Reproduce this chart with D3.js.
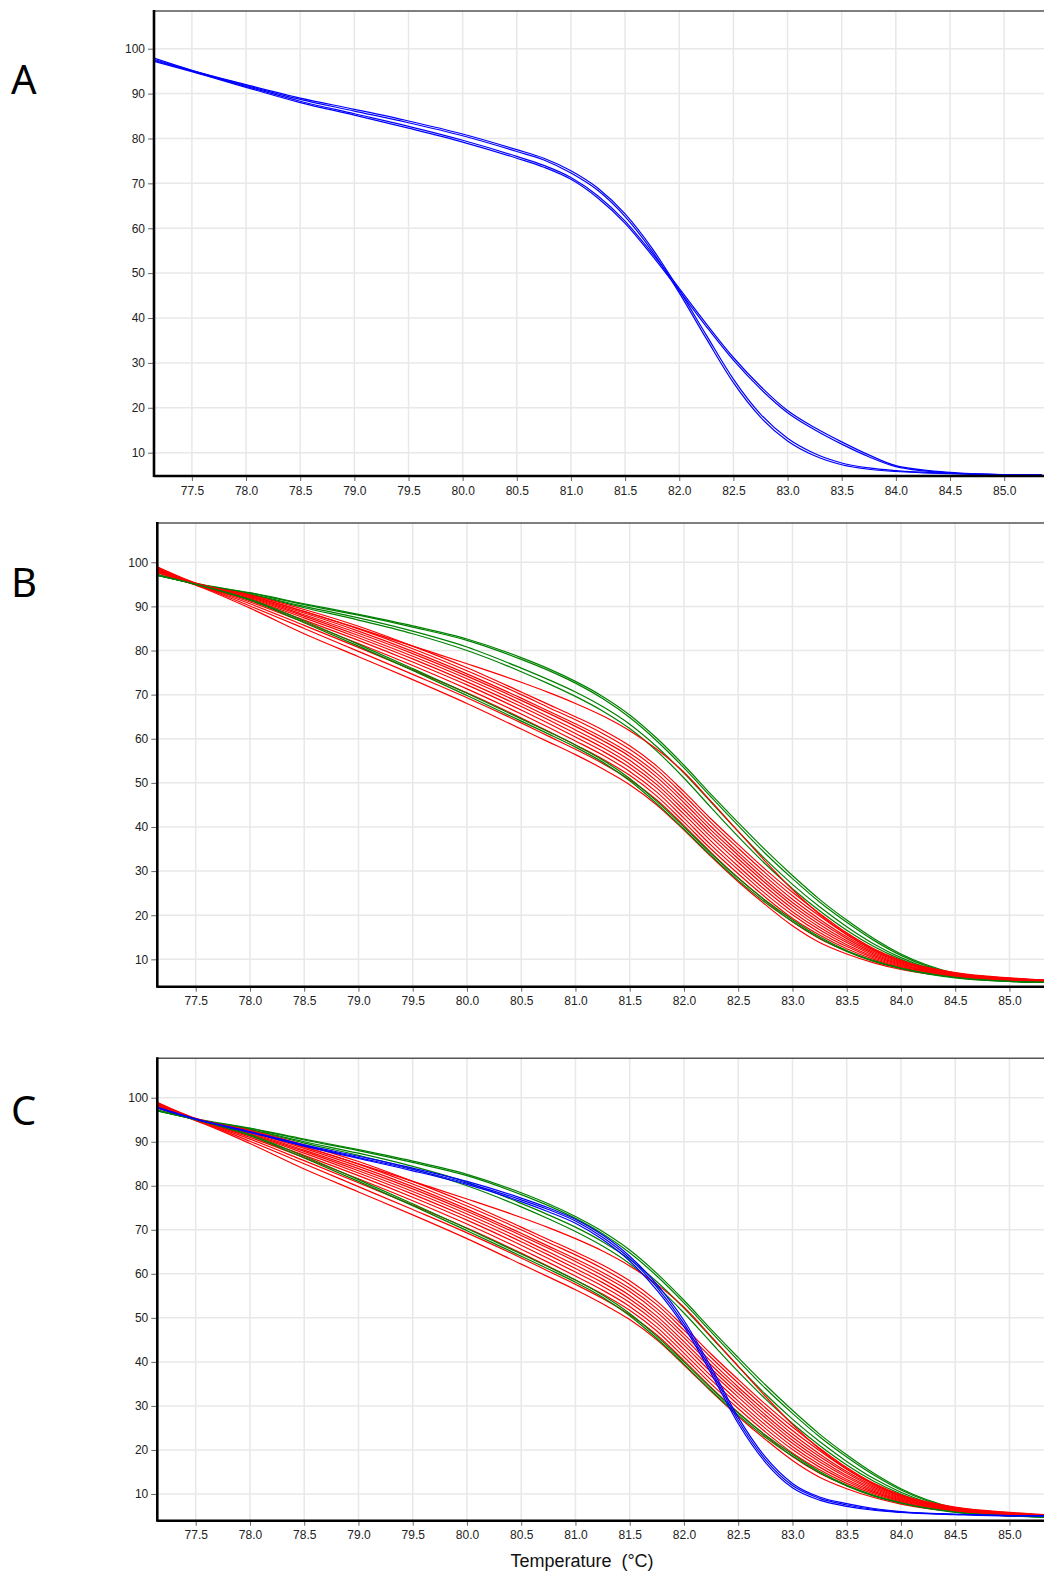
<!DOCTYPE html>
<html>
<head>
<meta charset="utf-8">
<script src="https://cdn.jsdelivr.net/npm/d3@7"></script>
<style>
body { margin: 0; background: #fff; }
svg { display: block; font-family: "Liberation Sans", Arial, sans-serif; }
</style>
</head>
<body>
<svg id="chart"></svg>
<script>
const temps = [77.15, 77.5, 78.0, 78.5, 79.0, 79.5, 80.0, 80.5, 80.75, 81.0, 81.25, 81.5, 81.75,
    82.0, 82.25, 82.5, 82.75, 83.0, 83.25, 83.5, 83.75, 84.0, 84.5, 85.0, 85.35];

const xTickValues = [77.5, 78.0, 78.5, 79.0, 79.5, 80.0, 80.5, 81.0, 81.5, 82.0, 82.5, 83.0, 83.5, 84.0, 84.5, 85.0];
const yTickValues = [10, 20, 30, 40, 50, 60, 70, 80, 90, 100];

// panel A : blue samples
const blueA = [
    [97.9, 95.2, 92.0, 89.0, 86.5, 83.9, 81.0, 77.5, 75.6, 72.8, 68.9, 63.2, 55.5, 46.2, 36.2, 26.4, 18.6, 13.2, 9.8, 7.7, 6.6, 6.0, 5.4, 5.1, 5.0],
    [97.6, 95.1, 91.8, 88.7, 86.1, 83.5, 80.6, 77.1, 75.2, 72.3, 68.4, 62.6, 54.9, 45.6, 35.4, 25.6, 17.9, 12.6, 9.3, 7.3, 6.3, 5.8, 5.3, 5.1, 5.0],
    [97.4, 95.0, 91.6, 88.3, 85.5, 82.7, 79.6, 76.0, 74.0, 71.3, 67.2, 61.6, 54.4, 46.6, 38.7, 31.2, 24.8, 19.4, 15.6, 12.4, 9.5, 7.1, 5.6, 5.1, 5.0],
    [97.2, 94.9, 91.4, 88.0, 85.2, 82.3, 79.2, 75.6, 73.6, 70.9, 66.7, 61.1, 53.9, 46.1, 38.1, 30.6, 24.2, 18.9, 15.1, 11.9, 9.1, 6.9, 5.5, 5.1, 5.0]
];

// panel B / C : green samples (first four upper, last two lower)
const greenB = [
    [97.0, 95.1, 93.0, 90.4, 88.0, 85.3, 82.3, 78.0, 75.5, 72.6, 69.1, 64.8, 59.5, 53.4, 46.8, 40.3, 34.0, 28.3, 23.0, 18.4, 14.3, 10.9, 6.6, 5.1, 4.8],
    [97.2, 95.2, 93.1, 90.6, 88.2, 85.6, 82.6, 78.4, 75.9, 73.0, 69.6, 65.4, 60.1, 54.0, 47.4, 41.0, 34.8, 29.0, 23.6, 18.9, 14.7, 11.2, 6.8, 5.2, 4.8],
    [97.1, 95.1, 92.8, 90.0, 87.4, 84.4, 80.8, 76.0, 73.4, 70.6, 67.3, 63.3, 58.2, 52.2, 45.6, 39.0, 32.7, 27.0, 21.9, 17.4, 13.5, 10.4, 6.4, 5.1, 4.8],
    [97.0, 95.1, 92.7, 89.7, 86.9, 83.8, 80.0, 75.2, 72.5, 69.6, 66.3, 62.3, 57.2, 51.1, 44.4, 37.8, 31.6, 26.0, 21.0, 16.6, 12.9, 10.0, 6.2, 5.0, 4.8],
    [97.0, 95.0, 91.6, 86.7, 81.4, 75.9, 70.3, 64.5, 61.6, 58.6, 55.2, 51.0, 45.8, 40.0, 34.0, 28.4, 23.4, 19.0, 15.1, 12.0, 9.7, 8.0, 5.9, 5.0, 4.8],
    [97.1, 95.0, 91.4, 86.3, 81.0, 75.5, 69.8, 64.0, 61.1, 58.1, 54.7, 50.5, 45.3, 39.5, 33.5, 27.9, 22.9, 18.6, 14.8, 11.8, 9.5, 7.9, 5.8, 5.0, 4.8]
];

// panel B / C : red samples
const redB = [
    [98.2, 95.2, 92.4, 88.8, 85.0, 81.0, 77.0, 72.8, 70.5, 68.0, 65.2, 61.8, 57.6, 52.4, 45.8, 39.0, 32.2, 25.8, 20.2, 15.7, 12.2, 9.6, 6.8, 5.6, 5.2],
    [98.9, 95.3, 92.6, 89.3, 85.5, 81.0, 76.1, 70.6, 67.8, 65.0, 62.0, 58.4, 53.8, 48.0, 41.8, 36.0, 30.4, 25.2, 20.4, 16.0, 12.4, 9.8, 7.0, 5.8, 5.3],
    [98.8, 95.2, 92.4, 88.9, 84.9, 80.4, 75.4, 70.0, 67.1, 64.3, 61.2, 57.6, 53.0, 47.2, 41.0, 35.2, 29.6, 24.4, 19.8, 15.6, 12.1, 9.6, 6.9, 5.7, 5.2],
    [98.6, 95.2, 92.2, 88.5, 84.4, 79.8, 74.7, 69.2, 66.3, 63.4, 60.3, 56.7, 52.1, 46.3, 40.1, 34.3, 28.8, 23.6, 19.1, 15.1, 11.8, 9.4, 6.8, 5.7, 5.2],
    [98.5, 95.1, 92.0, 88.1, 83.9, 79.3, 74.2, 68.7, 65.8, 62.8, 59.6, 56.0, 51.3, 45.5, 39.3, 33.6, 28.0, 22.9, 18.5, 14.7, 11.5, 9.2, 6.7, 5.6, 5.2],
    [98.4, 95.1, 91.8, 87.8, 83.4, 78.7, 73.6, 68.0, 65.0, 62.0, 58.8, 55.1, 50.4, 44.6, 38.5, 32.8, 27.3, 22.2, 17.9, 14.2, 11.2, 9.0, 6.6, 5.6, 5.1],
    [98.3, 95.1, 91.6, 87.4, 82.9, 78.1, 72.9, 67.3, 64.3, 61.2, 58.0, 54.3, 49.6, 43.8, 37.7, 32.0, 26.5, 21.5, 17.3, 13.8, 10.9, 8.8, 6.5, 5.5, 5.1],
    [98.1, 95.0, 91.3, 86.9, 82.3, 77.4, 72.2, 66.5, 63.5, 60.4, 57.2, 53.5, 48.8, 42.9, 36.8, 31.1, 25.7, 20.8, 16.7, 13.3, 10.6, 8.6, 6.4, 5.5, 5.1],
    [98.0, 95.0, 91.0, 86.4, 81.6, 76.6, 71.3, 65.6, 62.6, 59.5, 56.3, 52.6, 47.9, 42.0, 35.9, 30.3, 24.9, 20.1, 16.1, 12.9, 10.3, 8.4, 6.3, 5.4, 5.0],
    [97.9, 94.9, 90.6, 85.7, 80.7, 75.6, 70.4, 64.7, 61.7, 58.6, 55.4, 51.7, 47.0, 41.1, 35.0, 29.4, 24.1, 19.3, 15.5, 12.4, 10.0, 8.2, 6.2, 5.4, 5.0],
    [97.7, 94.9, 90.1, 85.0, 79.8, 74.6, 69.3, 63.6, 60.6, 57.6, 54.4, 50.7, 46.1, 40.3, 34.2, 28.5, 23.3, 18.5, 14.7, 11.9, 9.6, 8.0, 6.1, 5.3, 5.0],
    [97.6, 94.8, 89.6, 83.8, 78.6, 73.4, 68.0, 62.2, 59.3, 56.4, 53.2, 49.6, 45.0, 39.3, 33.3, 27.6, 22.4, 17.6, 13.8, 11.2, 9.2, 7.7, 6.0, 5.3, 5.0]
];

// panel C : blue samples added
const blueC = [
    [97.8, 95.2, 92.3, 89.3, 86.7, 84.0, 81.0, 77.2, 75.0, 72.4, 68.8, 64.0, 57.6, 49.4, 38.8, 27.4, 18.4, 12.4, 9.3, 7.8, 6.7, 6.0, 5.4, 5.1, 5.0],
    [97.6, 95.1, 92.1, 89.0, 86.2, 83.4, 80.3, 76.4, 74.1, 71.5, 67.8, 62.9, 56.3, 48.0, 37.4, 26.0, 17.2, 11.4, 8.6, 7.2, 6.3, 5.8, 5.3, 5.0, 5.0],
    [97.7, 95.1, 92.2, 89.1, 86.4, 83.7, 80.6, 76.8, 74.6, 72.0, 68.3, 63.5, 57.0, 48.7, 38.1, 26.7, 17.8, 11.9, 9.0, 7.5, 6.5, 5.9, 5.4, 5.1, 5.0]
];

const blue = "#0000ff", green = "#008000", red = "#ff0000";

class MeltPanel {

    constructor(config, series) {
        this.config = config;
        this.series = series;
        this.init();
    }

    init() {
        let self = this;
        let c = self.config;

        self.g = d3.select(c.parent).append("g");

        self.xScale = d3.scaleLinear()
            .domain([c.xMin, c.xMin + (c.right - c.left) / c.pxPerDeg])
            .range([c.left, c.right]);
        self.yScale = d3.scaleLinear()
            .domain(c.yDomain)
            .range([c.bottom, c.top]);

        self.render();
    }

    render() {
        let self = this;
        let c = self.config;

        // grid
        self.g.append("g")
            .selectAll("line").data(xTickValues)
            .enter().append("line")
            .attr("x1", d => self.xScale(d)).attr("x2", d => self.xScale(d))
            .attr("y1", c.top).attr("y2", c.bottom)
            .attr("stroke", "#e8e8e8").attr("stroke-width", 1.5);
        self.g.append("g")
            .selectAll("line").data(yTickValues)
            .enter().append("line")
            .attr("x1", c.left).attr("x2", c.right)
            .attr("y1", d => self.yScale(d)).attr("y2", d => self.yScale(d))
            .attr("stroke", "#e8e8e8").attr("stroke-width", 1.5);

        // curves
        let clipId = "clip-" + c.letter;
        self.g.append("clipPath").attr("id", clipId)
            .append("rect")
            .attr("x", c.left).attr("y", c.top)
            .attr("width", c.right - c.left).attr("height", c.bottom - c.top);

        let line = d3.line()
            .x((d, i) => self.xScale(temps[i]))
            .y(d => self.yScale(d))
            .curve(d3.curveMonotoneX);

        let curves = self.g.append("g").attr("clip-path", `url(#${clipId})`);
        self.series.forEach(function (s) {
            curves.selectAll(null).data(s.values)
                .enter().append("path")
                .attr("d", line)
                .attr("fill", "none")
                .attr("stroke", s.color)
                .attr("stroke-width", 1.2);
        });

        // axes
        let axisX = d3.axisBottom(self.xScale)
            .tickValues(xTickValues)
            .tickFormat(d3.format(".1f"))
            .tickSize(5).tickPadding(5);
        let ax = self.g.append("g")
            .attr("transform", `translate(0, ${c.bottom})`)
            .call(axisX);
        ax.select(".domain").remove();

        let axisY = d3.axisLeft(self.yScale)
            .tickValues(yTickValues)
            .tickSize(6).tickPadding(3);
        let ay = self.g.append("g")
            .attr("transform", `translate(${c.left}, 0)`)
            .call(axisY);
        ay.select(".domain").remove();

        [ax, ay].forEach(function (a) {
            a.selectAll(".tick line").attr("stroke", "#666");
            a.selectAll(".tick text")
                .attr("fill", "#222")
                .attr("font-size", "12px")
                .attr("font-family", "Liberation Sans, Arial, sans-serif");
        });

        // frame: thin top, thick left and bottom
        self.g.append("line")
            .attr("x1", c.left).attr("x2", c.right)
            .attr("y1", c.top).attr("y2", c.top)
            .attr("stroke", "#555").attr("stroke-width", 1.6);
        self.g.append("line")
            .attr("x1", c.left).attr("x2", c.right)
            .attr("y1", c.bottom).attr("y2", c.bottom)
            .attr("stroke", "#000").attr("stroke-width", 2.6);
        self.g.append("line")
            .attr("x1", c.left).attr("x2", c.left)
            .attr("y1", c.top - 1).attr("y2", c.bottom + 1)
            .attr("stroke", "#000").attr("stroke-width", 2.6);

        // panel letter
        self.g.append("text")
            .attr("x", 11)
            .attr("y", c.letterY)
            .attr("font-family", "Noto Sans, Liberation Sans, sans-serif")
            .attr("font-size", "40px")
            .attr("fill", "#000")
            .text(c.letter);
    }
}

let svg = d3.select("#chart").attr("width", 1044).attr("height", 1571);

new MeltPanel({
    parent: "#chart", letter: "A", letterY: 94,
    left: 154, right: 1044, top: 11, bottom: 476,
    xMin: 77.15, pxPerDeg: 108.3, yDomain: [4.8, 108.4]
}, [{color: blue, values: blueA}]);

new MeltPanel({
    parent: "#chart", letter: "B", letterY: 597,
    left: 157.3, right: 1044, top: 523, bottom: 986.7,
    xMin: 77.146, pxPerDeg: 108.5, yDomain: [3.8, 108.9]
}, [
    {color: green, values: greenB.slice(0, 4)},
    {color: red, values: redB},
    {color: green, values: greenB.slice(4)}
]);

new MeltPanel({
    parent: "#chart", letter: "C", letterY: 1125,
    left: 157.3, right: 1044, top: 1058.3, bottom: 1520.7,
    xMin: 77.146, pxPerDeg: 108.5, yDomain: [3.93, 108.95]
}, [
    {color: green, values: greenB.slice(0, 4)},
    {color: red, values: redB},
    {color: green, values: greenB.slice(4)},
    {color: blue, values: blueC}
]);

// x axis title under the last panel
svg.append("text")
    .attr("x", 582)
    .attr("y", 1567)
    .attr("text-anchor", "middle")
    .attr("font-size", "18px")
    .attr("fill", "#111")
    .attr("xml:space", "preserve")
    .text("Temperature  (°C)");
</script>
</body>
</html>
